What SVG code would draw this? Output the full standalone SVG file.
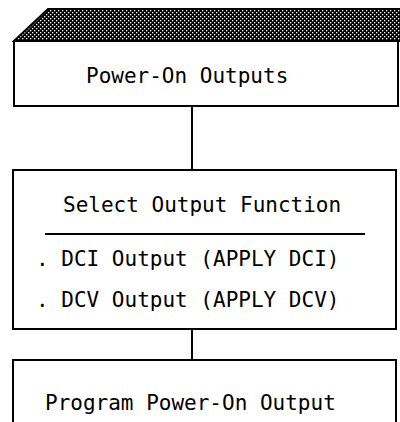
<svg xmlns="http://www.w3.org/2000/svg" width="400" height="422" viewBox="0 0 400 422">
<style>
.box{fill:#fff;stroke:#000;stroke-width:2}
.t{font-family:"DejaVu Sans Mono","Liberation Mono",monospace;font-size:21px;fill:#000}
.c{stroke:#000;stroke-width:2;fill:none}
</style>
<defs>
<pattern id="dots" width="4" height="4" patternUnits="userSpaceOnUse">
<rect width="4" height="4" fill="#000"/>
<rect x="0" y="0" width="1.3" height="1.3" fill="#fff"/>
<rect x="2" y="2" width="1.3" height="1.3" fill="#fff"/>
</pattern>
</defs>
<rect width="400" height="422" fill="#fff"/>
<g id="connectors">
<line class="c" x1="192" y1="106" x2="192" y2="170"/>
<line class="c" x1="192" y1="329" x2="192" y2="360"/>
</g>
<g id="node1">
<polygon points="14,41 48,9 402,9 402,41" fill="url(#dots)" stroke="#000" stroke-width="2"/>
<rect class="box" x="14" y="41" width="384" height="65"/>
<text class="t" x="86" y="83">Power-On Outputs</text>
</g>
<g id="node2">
<rect class="box" x="13" y="170" width="383" height="159"/>
<text class="t" x="63" y="212">Select Output Function</text>
<line class="c" x1="45" y1="234" x2="365" y2="234"/>
<text class="t" x="36" y="266">. DCI Output (APPLY DCI)</text>
<text class="t" x="36" y="307">. DCV Output (APPLY DCV)</text>
</g>
<g id="node3">
<rect class="box" x="13" y="360" width="383" height="70"/>
<text class="t" x="45" y="410">Program Power-On Output</text>
</g>
</svg>
